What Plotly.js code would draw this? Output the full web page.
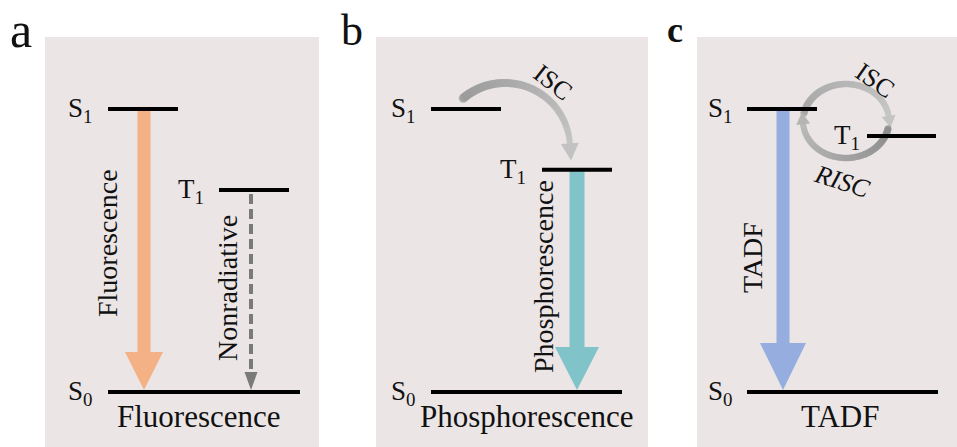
<!DOCTYPE html>
<html>
<head>
<meta charset="utf-8">
<script src="https://cdn.plot.ly/plotly-3.0.1.min.js"></script>
<style>html,body{margin:0;padding:0;background:#fff;}#chart{width:957px;height:447px;}</style>
</head>
<body>
<div id="chart"></div>
<script>
// ---------------- data ----------------
const panels = ['a', 'b', 'c'];
const processNames = ['Fluorescence', 'Phosphorescence', 'TADF'];
const stateKeys = ['S0', 'S1', 'T1'];
const stateLabels = ['S<sub>0</sub>', 'S<sub>1</sub>', 'T<sub>1</sub>'];
// relative energies (S0 = 0, S1 = 1)
const energiesA = [0, 1, 0.714];
const energiesB = [0, 1, 0.785];
const energiesC = [0, 1, 0.905];
// emissive transitions (from state -> S0)
const emissionFrom = ['S1', 'T1', 'S1'];
const emissionLabels = ['Fluorescence', 'Phosphorescence', 'TADF'];
// non-emissive transitions
const nonradFrom = ['T1'];
const nonradLabels = ['Nonradiative'];
const crossingLabels = ['ISC', 'ISC', '<i>RISC</i>'];

// ---------------- geometry & style (pixels) ----------------
const W = 957, H = 447, BASE = 392, PPE = 283; // S0 baseline pixel, pixels per energy unit
const E = py => (BASE - py) / PPE;
const energies = [energiesA, energiesB, energiesC];
const geom = [
  { left: 45, right: 319, levelX: {S0: [108, 300], S1: [108, 178], T1: [219, 289]},
    labelRight: {S0: 94, S1: 94, T1: 206}, letterX: 21, letterSize: 50, letterBold: false,
    arrowX: 144, shaftW: 13, headW: 38, headLen: 38, color: '#f4b185',
    vText: {x: 107, y: 243}, titleX: 199 },
  { left: 376, right: 648, levelX: {S0: [431, 622], S1: [431, 501], T1: [542, 612]},
    labelRight: {S0: 417, S1: 417, T1: 528}, letterX: 352, letterSize: 44, letterBold: false,
    arrowX: 577, shaftW: 15, headW: 44, headLen: 43, color: '#80c4c9',
    vText: {x: 543, y: 277}, titleX: 527 },
  { left: 697, right: 957, levelX: {S0: [747, 938], S1: [747, 817], T1: [867, 936]},
    labelRight: {S0: 734, S1: 734, T1: 862}, letterX: 675, letterSize: 36, letterBold: true,
    arrowX: 783, shaftW: 13, headW: 46, headLen: 47, color: '#95aedf',
    vText: {x: 752, y: 258}, titleX: 840 }
];
const FONT = '"Liberation Serif", "Times New Roman", serif';
const BG = '#ebe5e5';

const traces = [];
const shapes = [];
const annotations = [];

function hexToRgb(h) { return [1, 3, 5].map(i => parseInt(h.slice(i, i + 2), 16)); }
function mix(c1, c2, t) {
  const a = hexToRgb(c1), b = hexToRgb(c2);
  return 'rgb(' + a.map((v, i) => Math.round(v + (b[i] - v) * t)).join(',') + ')';
}

function fatArrow(xc, eFrom, eTo, shaftW, headW, headLenPx, color) {
  const hs = shaftW / 2, hh = headW / 2, hl = headLenPx / PPE;
  traces.push({
    x: [xc - hs, xc + hs, xc + hs, xc + hh, xc, xc - hh, xc - hs, xc - hs],
    y: [eFrom, eFrom, eTo + hl, eTo + hl, eTo, eTo + hl, eTo + hl, eFrom],
    mode: 'lines', fill: 'toself', fillcolor: color, line: {width: 0, color: color},
    hoverinfo: 'skip', showlegend: false
  });
}

// curved arrow along an ellipse, clockwise from th0 to th1 (degrees)
function curvedArrow(cx, cy, rx, ry, th0, th1, w0, w1, c0, c1, headLen, headHalf, headColor) {
  const n = 90, xs = [], ys = [], sz = [], cols = [];
  for (let i = 0; i <= n; i++) {
    const t = i / n, th = (th0 + (th1 - th0) * t) * Math.PI / 180;
    xs.push(cx + rx * Math.cos(th));
    ys.push(E(cy - ry * Math.sin(th)));
    sz.push(w0 + (w1 - w0) * t);
    cols.push(mix(c0, c1, t));
  }
  traces.push({x: xs, y: ys, mode: 'markers', marker: {size: sz, color: cols, line: {width: 0}},
    hoverinfo: 'skip', showlegend: false});
  const th = th1 * Math.PI / 180;
  const ex = cx + rx * Math.cos(th), ey = cy - ry * Math.sin(th);
  let dx = rx * Math.sin(th), dy = ry * Math.cos(th);
  const L = Math.hypot(dx, dy); dx /= L; dy /= L;
  const px = -dy, py = dx;
  const tx = ex + dx * headLen, ty = ey + dy * headLen;
  traces.push({
    x: [ex + px * headHalf, tx, ex - px * headHalf, ex + px * headHalf],
    y: [E(ey + py * headHalf), E(ty), E(ey - py * headHalf), E(ey + py * headHalf)],
    mode: 'lines', fill: 'toself', fillcolor: headColor, line: {width: 0, color: headColor},
    hoverinfo: 'skip', showlegend: false
  });
}

panels.forEach((p, k) => {
  const g = geom[k];
  // panel background
  shapes.push({type: 'rect', xref: 'x', yref: 'y', x0: g.left, x1: g.right, y0: E(H), y1: E(37),
    fillcolor: BG, line: {width: 0}, layer: 'below'});
  // panel letter
  annotations.push({x: g.letterX, y: E(30), xref: 'x', yref: 'y', text: g.letterBold ? '<b>' + p + '</b>' : p,
    showarrow: false, font: {family: FONT, size: g.letterSize, color: '#111'}, xanchor: 'center', yanchor: 'middle'});
  // process title
  annotations.push({x: g.titleX, y: E(416), xref: 'x', yref: 'y', text: processNames[k], showarrow: false,
    font: {family: FONT, size: 31, color: '#111'}, xanchor: 'center', yanchor: 'middle'});
});

// emission arrows
emissionFrom.forEach((s, k) => {
  const g = geom[k], en = energies[k];
  const eFrom = en[stateKeys.indexOf(s)];
  fatArrow(g.arrowX, eFrom, en[0] + 2 / PPE, g.shaftW, g.headW, g.headLen, g.color);
  annotations.push({x: g.vText.x, y: E(g.vText.y), xref: 'x', yref: 'y', text: emissionLabels[k],
    showarrow: false, textangle: -90, font: {family: FONT, size: 28, color: '#111'},
    xanchor: 'center', yanchor: 'middle'});
});

// nonradiative (panel a)
nonradFrom.forEach((s, k) => {
  const en = energies[0], xc = 251;
  const eFrom = en[stateKeys.indexOf(s)] - 4 / PPE, eHead = en[0] + 20 / PPE;
  traces.push({x: [xc, xc], y: [eFrom, eHead], mode: 'lines',
    line: {color: '#7a7a7a', width: 4, dash: '10px,5px'}, hoverinfo: 'skip', showlegend: false});
  traces.push({x: [xc - 6.5, xc + 6.5, xc, xc - 6.5], y: [eHead, eHead, en[0] + 2 / PPE, eHead],
    mode: 'lines', fill: 'toself', fillcolor: '#7a7a7a', line: {width: 0, color: '#7a7a7a'},
    hoverinfo: 'skip', showlegend: false});
  annotations.push({x: 227, y: E(288), xref: 'x', yref: 'y', text: nonradLabels[k], showarrow: false,
    textangle: -90, font: {family: FONT, size: 28, color: '#111'}, xanchor: 'center', yanchor: 'middle'});
});

// intersystem crossing arrows
curvedArrow(505, 148, 65, 65, 130, 4, 9, 6, '#9a9a9a', '#c4c4c4', 17, 9, '#c2c2c2');
curvedArrow(846, 121, 43, 37, 168, 8, 7, 6, '#a6a6a6', '#c6c6c6', 12, 7, '#c4c4c4');
curvedArrow(846, 121, 43, 37, -12, -175, 7, 6, '#8c8c8c', '#b9b9b9', 12, 7, '#b5b5b5');
const crossPos = [{x: 553, y: 82, a: 38}, {x: 875, y: 80, a: 35}, {x: 842, y: 181, a: 18}];
crossingLabels.forEach((t, i) => {
  annotations.push({x: crossPos[i].x, y: E(crossPos[i].y), xref: 'x', yref: 'y', text: t, showarrow: false,
    textangle: crossPos[i].a, font: {family: FONT, size: 26, color: '#111'}, xanchor: 'center', yanchor: 'middle'});
});

// energy levels & labels
panels.forEach((p, k) => {
  const g = geom[k], en = energies[k];
  stateKeys.forEach((s, j) => {
    traces.push({x: g.levelX[s], y: [en[j], en[j]], mode: 'lines', line: {color: '#000', width: 4},
      hoverinfo: 'skip', showlegend: false});
    annotations.push({x: g.labelRight[s], y: en[j], xref: 'x', yref: 'y', text: stateLabels[j], showarrow: false,
      font: {family: FONT, size: 27, color: '#111'}, xanchor: 'right', yanchor: 'middle', yshift: -1});
  });
});

const layout = {
  width: W, height: H, margin: {l: 0, r: 0, t: 0, b: 0},
  paper_bgcolor: '#fff', plot_bgcolor: '#fff', showlegend: false,
  xaxis: {range: [0, W], visible: false, fixedrange: true},
  yaxis: {range: [E(H), E(0)], visible: false, fixedrange: true},
  shapes: shapes, annotations: annotations
};
Plotly.newPlot('chart', traces, layout, {displayModeBar: false});
</script>
</body>
</html>
